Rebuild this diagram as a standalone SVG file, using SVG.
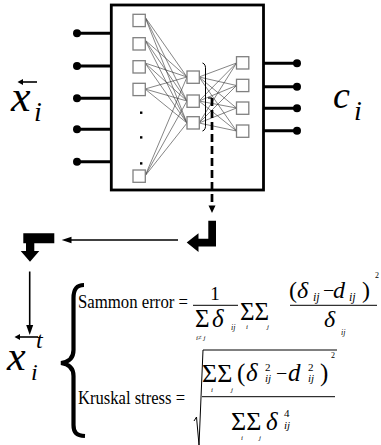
<svg xmlns="http://www.w3.org/2000/svg" width="381" height="445" viewBox="0 0 381 445">
<style>
.bg{fill:#fff}
.box{fill:#fff;stroke:#000;stroke-width:2.8}
.io{stroke:#000;stroke-width:3}
.dot{fill:#000}
.sq{fill:#fff;stroke:#808080;stroke-width:1.3}
.w{stroke:#333;stroke-width:0.6;fill:none}
.th{stroke:#000;stroke-width:1.6;fill:none}
.fl{stroke:#000;stroke-width:1;fill:none}
.t{font-family:"Liberation Serif","Times New Roman",serif;fill:#000}
.it{font-family:"Liberation Serif","Times New Roman",serif;font-style:italic;fill:#000}
</style>
<rect class="bg" x="0" y="0" width="381" height="445"/>

<g id="network">
<rect class="box" x="111.3" y="5" width="152.2" height="185"/>
<g id="inputs">
<line class="io" x1="77" y1="33.3" x2="111" y2="33.3"/><circle class="dot" cx="77" cy="33.3" r="4"/>
<line class="io" x1="77" y1="66" x2="111" y2="66"/><circle class="dot" cx="77" cy="66" r="4"/>
<line class="io" x1="77" y1="98.3" x2="111" y2="98.3"/><circle class="dot" cx="77" cy="98.3" r="4"/>
<line class="io" x1="77" y1="129.3" x2="111" y2="129.3"/><circle class="dot" cx="77" cy="129.3" r="4"/>
<line class="io" x1="77" y1="161.7" x2="111" y2="161.7"/><circle class="dot" cx="77" cy="161.7" r="4"/>
</g>
<g id="outputs">
<line class="io" x1="264" y1="63.3" x2="297" y2="63.3"/><circle class="dot" cx="297" cy="63.3" r="4"/>
<line class="io" x1="264" y1="86.7" x2="297" y2="86.7"/><circle class="dot" cx="297" cy="86.7" r="4"/>
<line class="io" x1="264" y1="108.3" x2="297" y2="108.3"/><circle class="dot" cx="297" cy="108.3" r="4"/>
<line class="io" x1="264" y1="130.7" x2="297" y2="130.7"/><circle class="dot" cx="297" cy="130.7" r="4"/>
</g>
<g id="weights">
<path class="w" d="M145,17 L187,77 M145,17 L187,101 M145,17 L187,123
M145,40 L187,77 M145,40 L187,101 M145,40 L187,123
M145,63 L187,77 M145,63 L187,101 M145,63 L187,123
M145,89 L187,77 M145,89 L187,101 M145,89 L187,123
M145,176 L187,77 M145,176 L187,101 M145,176 L187,123"/>
<path class="w" d="M199,77 L236.5,63 M199,77 L236.5,85.5 M199,77 L236.5,108 M199,77 L236.5,131
M199,101 L236.5,63 M199,101 L236.5,85.5 M199,101 L236.5,108 M199,101 L236.5,131
M199,123 L236.5,63 M199,123 L236.5,85.5 M199,123 L236.5,108 M199,123 L236.5,131"/>
</g>
<g id="input-layer">
<rect class="sq" x="133" y="14.3" width="12.3" height="12.3"/>
<rect class="sq" x="133" y="37.7" width="12.3" height="12.3"/>
<rect class="sq" x="133" y="60.7" width="12.3" height="12.3"/>
<rect class="sq" x="133" y="83.3" width="12.3" height="12.3"/>
<rect class="sq" x="133" y="170" width="12.3" height="12.3"/>
<rect class="dot" x="140" y="111.5" width="2.4" height="2.4"/>
<rect class="dot" x="140" y="136.2" width="2.4" height="2.4"/>
<rect class="dot" x="140" y="162.2" width="2.4" height="2.4"/>
</g>
<g id="hidden-layer">
<rect class="sq" x="187" y="71" width="12.3" height="12.3"/>
<rect class="sq" x="187" y="95" width="12.3" height="12.3"/>
<rect class="sq" x="187" y="116.7" width="12.3" height="12.3"/>
</g>
<g id="output-layer">
<rect class="sq" x="236.5" y="56.7" width="12.3" height="12.3"/>
<rect class="sq" x="236.5" y="79.3" width="12.3" height="12.3"/>
<rect class="sq" x="236.5" y="102" width="12.3" height="12.3"/>
<rect class="sq" x="236.5" y="125" width="12.3" height="12.3"/>
</g>
<path class="fl" d="M202.5,63 Q206,64 205.5,70 L205.5,124 Q206,130 202.5,131"/>
</g>

<g id="label-x">
<text class="it" x="11" y="111" font-size="44">x</text>
<text class="it" x="34" y="121" font-size="28">i</text>
<line class="th" x1="21" y1="82" x2="37" y2="82"/>
<polygon class="dot" points="17.5,82 23,79 23,85"/>
</g>
<g id="label-c">
<text class="it" x="333" y="108" font-size="38">c</text>
<text class="it" x="354" y="120" font-size="28">i</text>
</g>

<g id="connectors">
<line x1="208" y1="98" x2="212" y2="98" stroke="#000" stroke-width="1.2"/>
<line x1="212" y1="98" x2="212" y2="206" stroke="#000" stroke-width="2.7" stroke-dasharray="8,4"/>
<polygon class="dot" points="212,213 208.5,205.5 215.5,205.5"/>
<path class="dot" d="M208.3,220.7 L216,220.7 L216,246.5 L198.5,246.5 L198.5,252 L186.7,242.6 L198.5,233.3 L198.5,238.7 L208.3,238.7 Z"/>
<line class="th" x1="178" y1="240" x2="68" y2="240"/>
<polygon class="dot" points="61.7,240 71.5,236.8 71.5,243.2"/>
<path class="dot" d="M54.3,233.3 L54.3,243.3 L34.3,243.3 L34.3,251 L39.3,251 L30,261.7 L20.7,251 L26,251 L26,243.3 L23.3,243.3 L23.3,233.3 Z"/>
<line class="th" x1="29.7" y1="271.5" x2="29.7" y2="327"/>
<polygon class="dot" points="29.7,335 26.2,325 33.2,325"/>
</g>

<g id="label-xt">
<text class="it" x="7" y="370" font-size="42">x</text>
<text class="it" x="36" y="348" font-size="24">t</text>
<text class="it" x="31" y="380" font-size="24">i</text>
<line class="th" x1="19" y1="337" x2="38" y2="337"/>
<polygon class="dot" points="14.5,337 20,334 20,340"/>
</g>

<path id="brace" d="M84,285 C76,285 73.5,290 73.5,298 L73.5,350 C73.5,358 69,362 61,363 C69,364 73.5,368 73.5,376 L73.5,425 C73.5,432 76,435.5 85,436" fill="none" stroke="#000" stroke-width="4.2"/>

<g id="sammon">
<text class="t" x="78" y="308" font-size="18" textLength="110" lengthAdjust="spacingAndGlyphs">Sammon error =</text>
<text class="t" x="215" y="300" font-size="19" text-anchor="middle">1</text>
<line class="fl" x1="193" y1="305.3" x2="238" y2="305.3"/>
<text class="t" x="195" y="327" font-size="25">Σ</text>
<text class="it" x="212" y="327" font-size="25">δ</text>
<text class="it" x="231" y="330" font-size="8">ij</text>
<text class="it" x="196" y="340" font-size="7">i≠ j</text>
<text class="t" x="240" y="320" font-size="25">ΣΣ</text>
<text class="it" x="246" y="329" font-size="7">i</text>
<text class="it" x="267" y="329" font-size="7">j</text>
<text class="t" x="289" y="298" font-size="24">(</text>
<text class="it" x="297" y="298" font-size="24">δ</text>
<text class="it" x="313" y="301" font-size="12">ij</text>
<text class="t" x="323" y="297" font-size="20">−</text>
<text class="it" x="333" y="298" font-size="24">d</text>
<text class="it" x="349" y="301" font-size="12">ij</text>
<text class="t" x="362" y="298" font-size="24">)</text>
<text class="t" x="375" y="278" font-size="8">2</text>
<line class="fl" x1="290" y1="305.3" x2="377" y2="305.3"/>
<text class="it" x="324" y="327" font-size="24">δ</text>
<text class="it" x="341" y="335" font-size="8">ij</text>
</g>

<g id="kruskal">
<text class="t" x="78" y="404" font-size="18" textLength="107" lengthAdjust="spacingAndGlyphs">Kruskal stress =</text>
<path class="fl" d="M194,421 L196.5,417 L199,445 L203,350 L337,350" stroke-width="1.2"/>
<text class="t" x="202" y="382" font-size="26">ΣΣ</text>
<text class="it" x="211" y="392" font-size="7">i</text>
<text class="it" x="231" y="392" font-size="7">j</text>
<text class="t" x="237" y="381" font-size="25">(</text>
<text class="it" x="246" y="381" font-size="25">δ</text>
<text class="t" x="265" y="371" font-size="11">2</text>
<text class="it" x="265" y="382" font-size="11">ij</text>
<text class="t" x="276" y="380" font-size="20">−</text>
<text class="it" x="288" y="381" font-size="25">d</text>
<text class="t" x="308" y="371" font-size="11">2</text>
<text class="it" x="308" y="382" font-size="11">ij</text>
<text class="t" x="320" y="381" font-size="25">)</text>
<text class="t" x="331" y="358" font-size="8">2</text>
<line class="fl" x1="202" y1="396.7" x2="335" y2="396.7"/>
<text class="t" x="231" y="430" font-size="26">ΣΣ</text>
<text class="it" x="266" y="430" font-size="25">δ</text>
<text class="t" x="284" y="417" font-size="11">4</text>
<text class="it" x="284" y="429" font-size="11">ij</text>
<text class="it" x="241" y="440" font-size="7">i</text>
<text class="it" x="259" y="440" font-size="7">j</text>
</g>
</svg>
